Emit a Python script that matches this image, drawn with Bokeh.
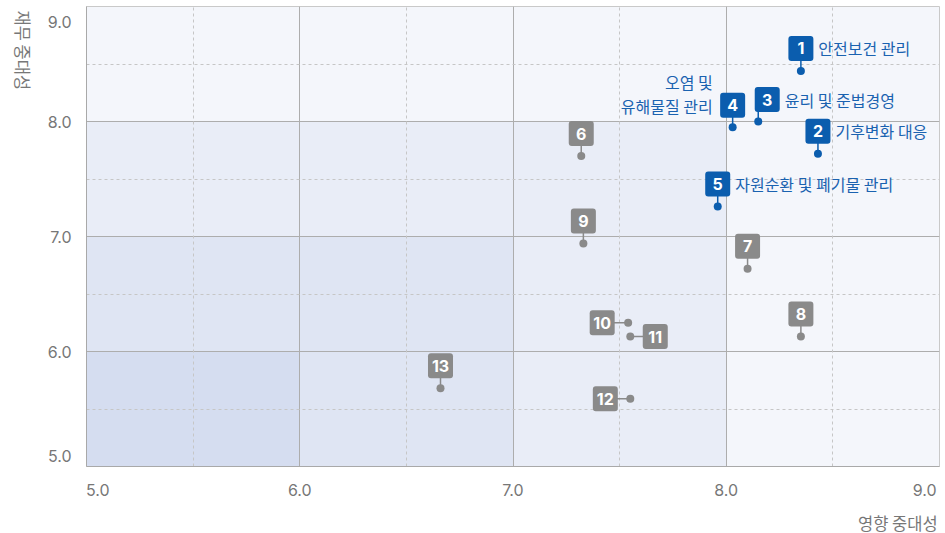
from math import pi
from bokeh.plotting import figure
from bokeh.layouts import row, column
from bokeh.models import ColumnDataSource, FixedTicker, Grid
from bokeh.embed import file_html
from bokeh.resources import INLINE
from bokeh.core.properties import value

# ---------------- data ----------------
item_no = ["1", "2", "3", "4", "5", "6", "7", "8", "9", "10", "11", "12", "13"]
impact = [8.35, 8.43, 8.15, 8.03, 7.96, 7.32, 8.10, 8.35, 7.33, 7.54, 7.55, 7.55, 6.66]
financial = [8.44, 7.72, 8.00, 7.95, 7.26, 7.70, 6.72, 6.13, 6.94, 6.25, 6.13, 5.59, 5.68]
issue_names = ["안전보건 관리", "기후변화 대응", "윤리 및 준법경영", "오염 및\n유해물질 관리", "자원순환 및 폐기물 관리"]
tick_values = [5.0, 6.0, 7.0, 8.0, 9.0]
tick_labels = ["5.0", "6.0", "7.0", "8.0", "9.0"]
half_ticks = [5.5, 6.5, 7.5, 8.5]
zone_edges = [8.0, 7.0, 6.0]
x_title = "영향 중대성"
y_title = "재무 중대성"

# ---------------- style ----------------
BLUE = "#0b5dae"
BLUE_TEXT = "#1a62b0"
GRAY = "#8a8a8a"
AXIS_TEXT = "#777777"
zone_colors = ["#e9edf7", "#dfe5f3", "#d5ddf0"]
n_top = 5
colors = [BLUE if i < n_top else GRAY for i in range(len(item_no))]
# badge offsets in screen pixels (dx right, dy up)
badge_dx = [0, 0, 9, 0, 0, 0, 0, 0, 0, -26, 25, -25, 0]
badge_dy = [22.5, 22.5, 22, 22, 22.5, 22.5, 22.5, 22.5, 22.5, 0, 0, 0, 22.5]
name_side = ["right", "right", "right", "left", "right"]
name_dy = [0, 0, 0, 11, 0]

TOTAL_W, TOTAL_H = 945, 533
STRIP_W = 44          # strip holding the vertical y title
STRIP_H = 30          # strip holding the x title
W = TOTAL_W - STRIP_W
H = TOTAL_H - STRIP_H
B_LEFT, B_RIGHT, B_TOP, B_BOTTOM = 85 - STRIP_W, 6, 6, 37
x0, x1 = tick_values[0], tick_values[-1]
y0, y1 = tick_values[0], tick_values[-1]
px_x = (W - B_LEFT - B_RIGHT) / (x1 - x0)
px_y = (H - B_TOP - B_BOTTOM) / (y1 - y0)


def strip(width, height):
    f = figure(width=width, height=height, x_range=(0, width), y_range=(0, height),
               output_backend="svg", toolbar_location=None, min_border=0,
               x_axis_type=None, y_axis_type=None)
    f.outline_line_color = None
    f.background_fill_color = "white"
    f.border_fill_color = "white"
    f.grid.visible = False
    return f


title_style = dict(text_color=AXIS_TEXT, text_font=value("Noto Sans CJK KR"), text_font_size="16.5px",
                   text_baseline="middle")

# ---------------- y-title strip ----------------
ys = strip(STRIP_W, TOTAL_H)
ys.text(x=[22], y=[TOTAL_H - 10], text=[y_title], angle=-pi / 2, text_align="left", **title_style)

# ---------------- x-title strip ----------------
xs = strip(W, STRIP_H)
xs.text(x=[W - 2], y=[11], text=[x_title], text_align="right", **title_style)

# ---------------- main chart ----------------
p = figure(width=W, height=H, x_range=(x0, x1), y_range=(y0, y1),
           output_backend="svg", toolbar_location=None,
           min_border_left=B_LEFT, min_border_right=B_RIGHT,
           min_border_top=B_TOP, min_border_bottom=B_BOTTOM)
p.background_fill_color = "#f4f6fb"
p.border_fill_color = "white"
p.outline_line_color = "#c9c9c9"

# quadrant zones
p.quad(left=[x0] * len(zone_edges), right=zone_edges, bottom=[y0] * len(zone_edges), top=zone_edges,
       fill_color=zone_colors, line_color=None, level="image")

# grids
for g in (p.xgrid, p.ygrid):
    g.ticker = FixedTicker(ticks=tick_values[1:-1])
    g.grid_line_color = "#adadad"
    g.grid_line_width = 1
for dim in (0, 1):
    p.add_layout(Grid(dimension=dim, ticker=FixedTicker(ticks=half_ticks),
                      grid_line_color="#c6c6c6", grid_line_dash="3 3"))

# axes (edge tick labels nudged inward with padding characters)
NB = "\u00a0"
x_over = {v: l for v, l in zip(tick_values, tick_labels)}
x_over[tick_values[0]] = NB * 5 + tick_labels[0]
x_over[tick_values[-1]] = tick_labels[-1] + NB * 2
y_over = {v: l for v, l in zip(tick_values, tick_labels)}
y_over[tick_values[0]] = tick_labels[0] + "\n" + NB + "\n" + NB
y_over[tick_values[-1]] = NB + "\n" + tick_labels[-1]
for ax, ov in ((p.xaxis, x_over), (p.yaxis, y_over)):
    ax.ticker = FixedTicker(ticks=tick_values)
    ax.major_label_overrides = ov
    ax.axis_line_color = "#a9a9a9"
    ax.major_tick_line_color = None
    ax.minor_tick_line_color = None
    ax.major_label_text_font = "Inter"
    ax.major_label_text_font_size = "16px"
    ax.major_label_text_color = AXIS_TEXT
p.yaxis.major_label_text_line_height = 0.55
p.xaxis.major_label_text_line_height = 1.0
p.xaxis.major_label_standoff = 7
p.yaxis.major_label_standoff = 9

# positions derived from data + pixel offsets
bx = [x + dx / px_x for x, dx in zip(impact, badge_dx)]
by = [y + dy / px_y for y, dy in zip(financial, badge_dy)]
sx_end = [x + (dx / px_x if dy == 0 else 0) for x, dx, dy in zip(impact, badge_dx, badge_dy)]
sy_end = by

src = ColumnDataSource(dict(x=impact, y=financial, bx=bx, by=by, sx=sx_end, sy=sy_end,
                            no=item_no, color=colors))
p.segment(x0="x", y0="y", x1="sx", y1="sy", line_color="color", line_width=1.5, source=src)
p.scatter(x="x", y="y", size=8, fill_color="color", line_color=None, source=src)
p.rect(x="bx", y="by", width=25, height=25, width_units="screen", height_units="screen",
       fill_color="color", line_color=None, border_radius=3, source=src)
p.text(x="bx", y="by", text="no", text_align="center", text_baseline="middle",
       text_color="white", text_font=value("Inter"), text_font_style="bold",
       text_font_size="16px", source=src)

# issue names for top items
for side in ("right", "left"):
    idx = [i for i in range(len(issue_names)) if name_side[i] == side]
    off = 17.5 if side == "right" else -20
    nsrc = ColumnDataSource(dict(
        x=[bx[i] + off / px_x for i in idx],
        y=[by[i] + name_dy[i] / px_y for i in idx],
        t=[issue_names[i] for i in idx]))
    p.text(x="x", y="y", text="t", source=nsrc, text_align="left" if side == "right" else "right",
           text_baseline="middle", text_color=BLUE_TEXT, text_font=value("Noto Sans CJK KR"),
           text_font_size="16px", text_line_height=1.0)

layout = row(ys, column(p, xs, spacing=0), spacing=0)
open("out.html", "w").write(file_html(layout, INLINE))
